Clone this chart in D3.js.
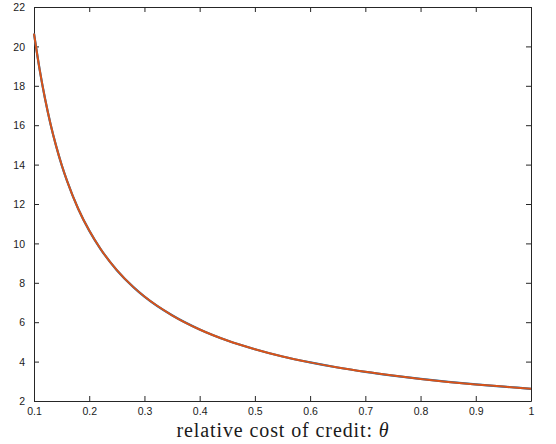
<!DOCTYPE html>
<html><head><meta charset="utf-8">
<script src="https://cdn.jsdelivr.net/npm/d3@7"></script>
<style>body{margin:0;background:#fff}svg{display:block}</style>
</head><body>
<svg id="c" width="556" height="444"></svg>
<script>
const thetaValues = [0.10,0.11,0.12,0.13,0.14,0.15,0.16,0.18,0.20,0.22,0.25,0.28,0.30,0.35,0.40,0.45,0.50,0.55,0.60,0.65,0.70,0.75,0.80,0.85,0.90,0.95,1.00];
const seriesValues = [20.65,18.86,17.34,16.05,14.95,13.99,13.16,11.76,10.65,9.74,8.64,7.78,7.30,6.35,5.63,5.07,4.63,4.26,3.96,3.70,3.48,3.29,3.12,2.97,2.84,2.73,2.62];
const xTicks = [0.1,0.2,0.3,0.4,0.5,0.6,0.7,0.8,0.9,1];
const xTickLabels = ["0.1","0.2","0.3","0.4","0.5","0.6","0.7","0.8","0.9","1"];
const yTicks = [2,4,6,8,10,12,14,16,18,20,22];

const svg = d3.select("#c");
const L=34, R=531, T=7, B=401;
const x = d3.scaleLinear().domain([0.1,1]).range([L,R]);
const y = d3.scaleLinear().domain([2,22]).range([B,T]);
const axisColor = "#262626";
const font = "Helvetica, Arial, 'Liberation Sans', sans-serif";

// axes with inward ticks
const tl = 5;
const gb = svg.append("g").attr("transform",`translate(0,${B})`)
  .call(d3.axisBottom(x).tickValues(xTicks).tickFormat((d,i)=>xTickLabels[i]).tickSizeInner(-tl).tickSizeOuter(0).tickPadding(9));
const gt = svg.append("g").attr("transform",`translate(0,${T})`)
  .call(d3.axisTop(x).tickValues(xTicks).tickFormat("").tickSizeInner(-tl).tickSizeOuter(0));
const gl = svg.append("g").attr("transform",`translate(${L},0)`)
  .call(d3.axisLeft(y).tickValues(yTicks).tickSizeInner(-tl).tickSizeOuter(0).tickPadding(9));
const gr = svg.append("g").attr("transform",`translate(${R},0)`)
  .call(d3.axisRight(y).tickValues(yTicks).tickFormat("").tickSizeInner(-tl).tickSizeOuter(0));
[gb,gt,gl,gr].forEach(g=>{
  g.selectAll("path,line").attr("stroke",axisColor).attr("stroke-width",1);
  g.selectAll("text").attr("fill","#1a1a1a").style("font-family",font).style("font-size","10.5px");
});
gb.selectAll("text").attr("dy","0.5em");
gl.selectAll("text").attr("dy","0.35em");

// curve on top
const line = d3.line().x((d,i)=>x(thetaValues[i])).y(d=>y(d)).curve(d3.curveMonotoneX);
svg.append("path").datum(seriesValues).attr("d",line)
  .attr("fill","none").attr("stroke","#0072bd").attr("stroke-width",2.2);
svg.append("path").datum(seriesValues).attr("d",line)
  .attr("fill","none").attr("stroke","#d95319").attr("stroke-width",2);

// x label
const lab = svg.append("text").attr("x",283).attr("y",437).attr("text-anchor","middle")
  .style("font-family","'Liberation Serif','DejaVu Serif',Times,serif").style("font-size","20px")
  .style("letter-spacing","0.9px").attr("fill","#1a1a1a");
lab.append("tspan").text("relative cost of credit: ");
lab.append("tspan").attr("font-style","italic").text("θ");
</script>
</body></html>
